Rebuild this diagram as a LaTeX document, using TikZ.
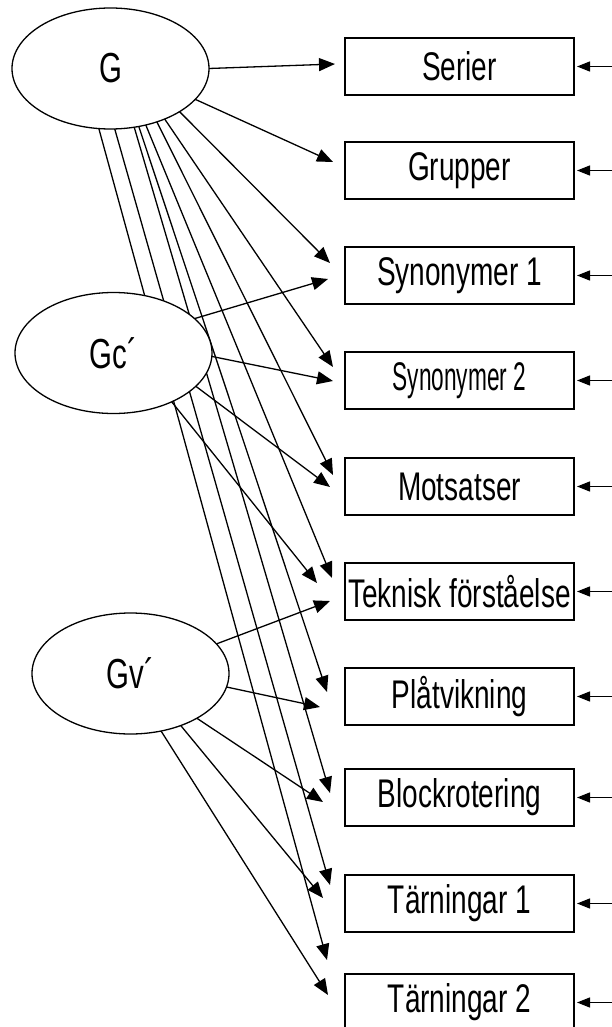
\documentclass[tikz,border=0pt]{standalone}
\usepackage{fontspec}
\setmainfont{Liberation Sans}[FakeStretch=0.7]
\usepackage{tikz}
\usetikzlibrary{arrows.meta,positioning,shapes.geometric,backgrounds}

\begin{document}
\begin{tikzpicture}[x=1pt,y=-1pt,
        factor/.style={ellipse,draw,fill=white,line width=1.3pt,inner sep=0pt,outer sep=0pt,
            minimum width=197pt,minimum height=121pt,font=\fontsize{42}{48}\selectfont},
        test/.style={rectangle,draw,fill=white,line width=1.3pt,inner sep=0pt,outer sep=0pt,
            minimum width=229pt,minimum height=57pt,font=\fontsize{40}{48}\selectfont},
        load/.style={line width=1.3pt,-{Triangle[length=16pt,width=13pt]}},
        err/.style={line width=1.3pt,-{Triangle[length=13pt,width=10pt]}}]
            \useasboundingbox (0,0) rectangle (611,1027);

            \node [factor] (G) at (110.5,68.5) {G};
            \node [factor] (Gc) at (113.5,353) {Gc´};
            \node [factor] (Gv) at (130.5,673.5) {Gv´};

            \node [test] (serier) at (459.5,66.5) {Serier};
            \node [test,below=47pt of serier] (grupper) {Grupper};
            \node [test,below=48pt of grupper] (syn1) {Synonymer 1};
            \node [test,below=48pt of syn1] (syn2) {\scalebox{0.81}[1]{Synonymer 2}};
            \node [test,below=49pt of syn2] (mots) {Motsatser};
            \node [test,below=48pt of mots] (tek) {Teknisk förståelse};
            \node [test,below=48pt of tek] (plat) {Plåtvikning};
            \node [test,below=44pt of plat] (block) {Blockrotering};
            \node [test,below=49pt of block] (tarn1) {Tärningar 1};
            \node [test,below=42pt of tarn1] (tarn2) {Tärningar 2};

            \begin{scope}[on background layer]
            \draw [load] (G.0) -- ([shift={(-10,-2.5)}]serier.west);
            \draw [load] (G.340) -- ([shift={(-12,-8.5)}]grupper.west);
            \draw [load] (G.328) -- ([shift={(-15,-12.5)}]syn1.west);
            \draw [load] (G.317) -- ([shift={(-12,-13.5)}]syn2.west);
            \draw [load] (G.311) -- ([shift={(-12,-11.5)}]mots.west);
            \draw [load] (G.302) -- ([shift={(-13,-13.5)}]tek.west);
            \draw [load] (G.296) -- ([shift={(-18,-4.5)}]plat.west);
            \draw [load] (G.292) -- ([shift={(-15,-4.5)}]block.west);
            \draw [load] (G.274) -- ([shift={(-15,-18.5)}]tarn1.west);
            \draw [load] (G.259) -- ([shift={(-18,-42.5)}]tarn2.west);

            \draw [load] (Gc.23) -- ([shift={(-17,3.5)}]syn1.west);
            \draw [load] (Gc.358) -- ([shift={(-12,0.5)}]syn2.west);
            \draw [load] (Gc.338) -- ([shift={(-15,0.5)}]mots.west);
            \draw [load] (Gc.320) -- ([shift={(-28,-8.5)}]tek.west);

            \draw [load] (Gv.19) -- ([shift={(-15,9.5)}]tek.west);
            \draw [load] (Gv.352) -- ([shift={(-25,10.5)}]plat.west);
            \draw [load] (Gv.326) -- ([shift={(-22,4.5)}]block.west);
            \draw [load] (Gv.314) -- ([shift={(-22,-5.5)}]tarn1.west);
            \draw [load] (Gv.298) -- ([shift={(-17,-7.5)}]tarn2.west);
            \end{scope}

            \foreach \t in {serier,grupper,syn1,syn2,mots,tek,plat,block,tarn1,tarn2}
                \draw [err] ([xshift=40pt]\t.east) -- ([xshift=3pt]\t.east);
        \end{tikzpicture}
\end{document}
